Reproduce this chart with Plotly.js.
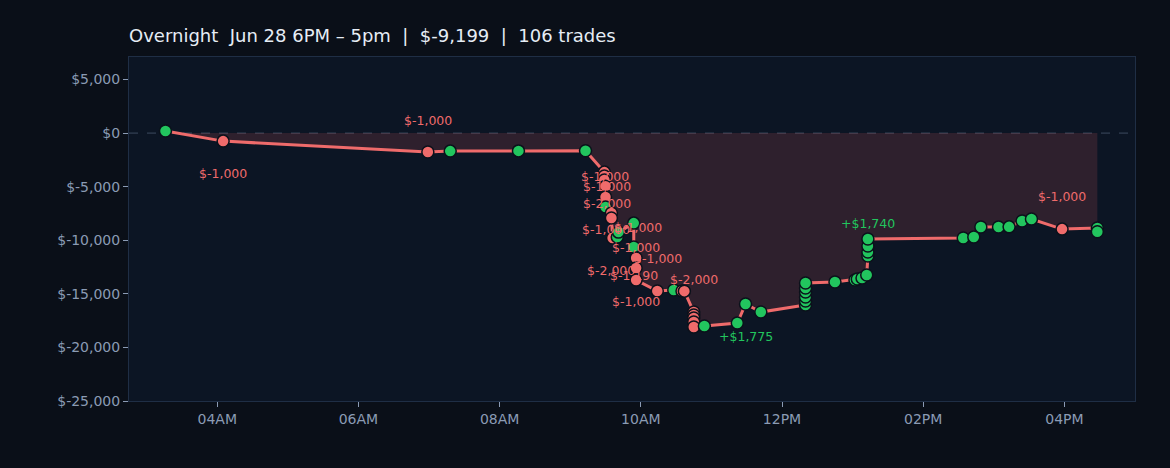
<!DOCTYPE html>
<html>
<head>
<meta charset="utf-8">
<script src="https://cdn.plot.ly/plotly-3.0.1.min.js"></script>
<style>
  html, body { margin: 0; padding: 0; background: #0a0f18; }
  #chart { width: 1170px; height: 468px; }
</style>
</head>
<body>
<div id="chart"></div>
<script>
'use strict';

const DAY = '2025-06-28';
const TRADE_COUNT = 106;

// cumulative P&L after each trade
const tradeTimes = [
  '03:16', '04:05', '06:59', '07:18', '08:16', '09:13',
  '09:29', '09:29', '09:29', '09:30', '09:30', '09:30',
  '09:35', '09:35', '09:36', '09:40', '09:41', '09:54', '09:54',
  '09:56', '09:56', '09:56', '10:14', '10:28', '10:35', '10:37',
  '10:45', '10:45', '10:45', '10:45', '10:45', '10:54',
  '11:22', '11:29', '11:42',
  '12:20', '12:20', '12:20', '12:20', '12:20', '12:20', '12:45',
  '13:02', '13:04', '13:08', '13:12', '13:13', '13:13', '13:13', '13:13',
  '14:34', '14:43', '14:49', '15:04', '15:13', '15:24', '15:32',
  '15:58', '16:28', '16:28'
];
const cumPnl = [
  190, -750, -1770, -1680, -1660, -1650,
  -3640, -4010, -4380, -4950, -5970, -6900,
  -7460, -7930, -9790, -9700, -9240, -8400, -10630,
  -11660, -12590, -13710, -14740, -14650, -14740, -14750,
  -16700, -16980, -17260, -17630, -18100, -18000,
  -17720, -15950, -16700,
  -16040, -15670, -15300, -14830, -14460, -13990, -13900,
  -13710, -13620, -13520, -13250, -11470, -11100, -10540, -9890,
  -9790, -9700, -8770, -8770, -8750, -8210, -8020,
  -8960, -8860, -9199
];
// W = winning trade, L = losing trade
const tradeResult = [
  'W', 'L', 'L', 'W', 'W', 'W',
  'L', 'L', 'L', 'L', 'L', 'W',
  'L', 'L', 'L', 'W', 'W', 'W', 'W',
  'L', 'L', 'L', 'L', 'W', 'L', 'L',
  'L', 'L', 'L', 'L', 'L', 'W',
  'W', 'W', 'W',
  'W', 'W', 'W', 'W', 'W', 'W', 'W',
  'W', 'W', 'W', 'W', 'W', 'W', 'W', 'W',
  'W', 'W', 'W', 'W', 'W', 'W', 'W',
  'L', 'W', 'W'
];

// big trades that get a label: index into the arrays above, and the trade P&L
const labelIdx = [1, 2, 7, 9, 10, 14, 17, 18, 19, 20, 21, 22, 26, 33, 49, 57];
const labelPnl = [-1000, -1000, -1000, -1000, -2000, -1000, -1000, -1000, -1000, -2000, -1190, -1000, -2000, 1775, 1740, -1000];
// pixel offsets of each label from its trade
const labelShift = [
  [0, -32], [0, 32], [1, 0], [1, 0], [1, -6], [-7, 9], [4, -4], [2, 0],
  [22, 0], [-25, -2], [-2, 5], [-21, -10], [0, 33], [0, -32], [0, 16], [0, 33]
];

const yTickVals = [5000, 0, -5000, -10000, -15000, -20000, -25000];

const RED = '#ef6b6b';
const GREEN = '#22c55e';
const FONT = 'DejaVu Sans, sans-serif';

function money(v) {
  return '$' + (v < 0 ? '-' : '') + Math.abs(v).toLocaleString('en-US');
}
function signedMoney(v) {
  return v > 0 ? '+' + money(v) : money(v);
}

const xs = tradeTimes.map(t => DAY + ' ' + t);
const finalPnl = cumPnl[cumPnl.length - 1];

const traces = [{
  x: xs,
  y: cumPnl,
  type: 'scatter',
  mode: 'lines+markers',
  fill: 'tozeroy',
  fillcolor: 'rgba(239,100,100,0.15)',
  line: { color: RED, width: 3 },
  marker: {
    size: 12,
    color: tradeResult.map(r => r === 'W' ? GREEN : RED),
    line: { color: '#0b111b', width: 1.5 }
  },
  hoverinfo: 'skip'
}];

const annotations = labelIdx.map((idx, i) => ({
  x: xs[idx],
  y: cumPnl[idx],
  text: signedMoney(labelPnl[i]),
  showarrow: false,
  xshift: labelShift[i][0],
  yshift: labelShift[i][1],
  font: { family: FONT, size: 12.5, color: labelPnl[i] > 0 ? GREEN : RED }
}));

const layout = {
  width: 1170,
  height: 468,
  paper_bgcolor: '#0a0f18',
  plot_bgcolor: '#0c1524',
  margin: { l: 129, r: 35, t: 57, b: 67 },
  font: { family: FONT, color: '#8b9bb4', size: 14 },
  showlegend: false,
  title: {
    text: `Overnight  Jun 28 6PM – 5pm  |  ${money(finalPnl)}  |  ${TRADE_COUNT} trades`,
    font: { family: FONT, size: 18, color: '#e6edf5' },
    x: 0, xref: 'paper', xanchor: 'left',
    y: 1 - 36 / 468, yref: 'container', yanchor: 'middle'
  },
  xaxis: {
    type: 'date',
    range: [DAY + ' 02:45', DAY + ' 17:00'],
    tick0: DAY + ' 04:00',
    dtick: 2 * 3600 * 1000,
    tickformat: '%I%p',
    showgrid: false,
    zeroline: false,
    showline: true,
    mirror: true,
    linecolor: '#1f2e45',
    linewidth: 1,
    ticks: 'outside',
    ticklen: 5,
    tickcolor: '#8b9bb4',
    tickfont: { family: FONT, size: 14, color: '#8b9bb4' }
  },
  yaxis: {
    range: [-25000, 7100],
    tickvals: yTickVals,
    ticktext: yTickVals.map(money),
    showgrid: false,
    zeroline: false,
    showline: true,
    mirror: true,
    linecolor: '#1f2e45',
    linewidth: 1,
    ticks: 'outside',
    ticklen: 5,
    tickcolor: '#8b9bb4',
    tickfont: { family: FONT, size: 14, color: '#8b9bb4' }
  },
  shapes: [{
    type: 'line',
    xref: 'paper', x0: 0, x1: 1,
    yref: 'y', y0: 0, y1: 0,
    layer: 'below',
    line: { color: '#3d4b60', width: 1, dash: 'dash' }
  }],
  annotations: annotations
};

Plotly.newPlot('chart', traces, layout, { displayModeBar: false, staticPlot: true });
</script>
</body>
</html>
